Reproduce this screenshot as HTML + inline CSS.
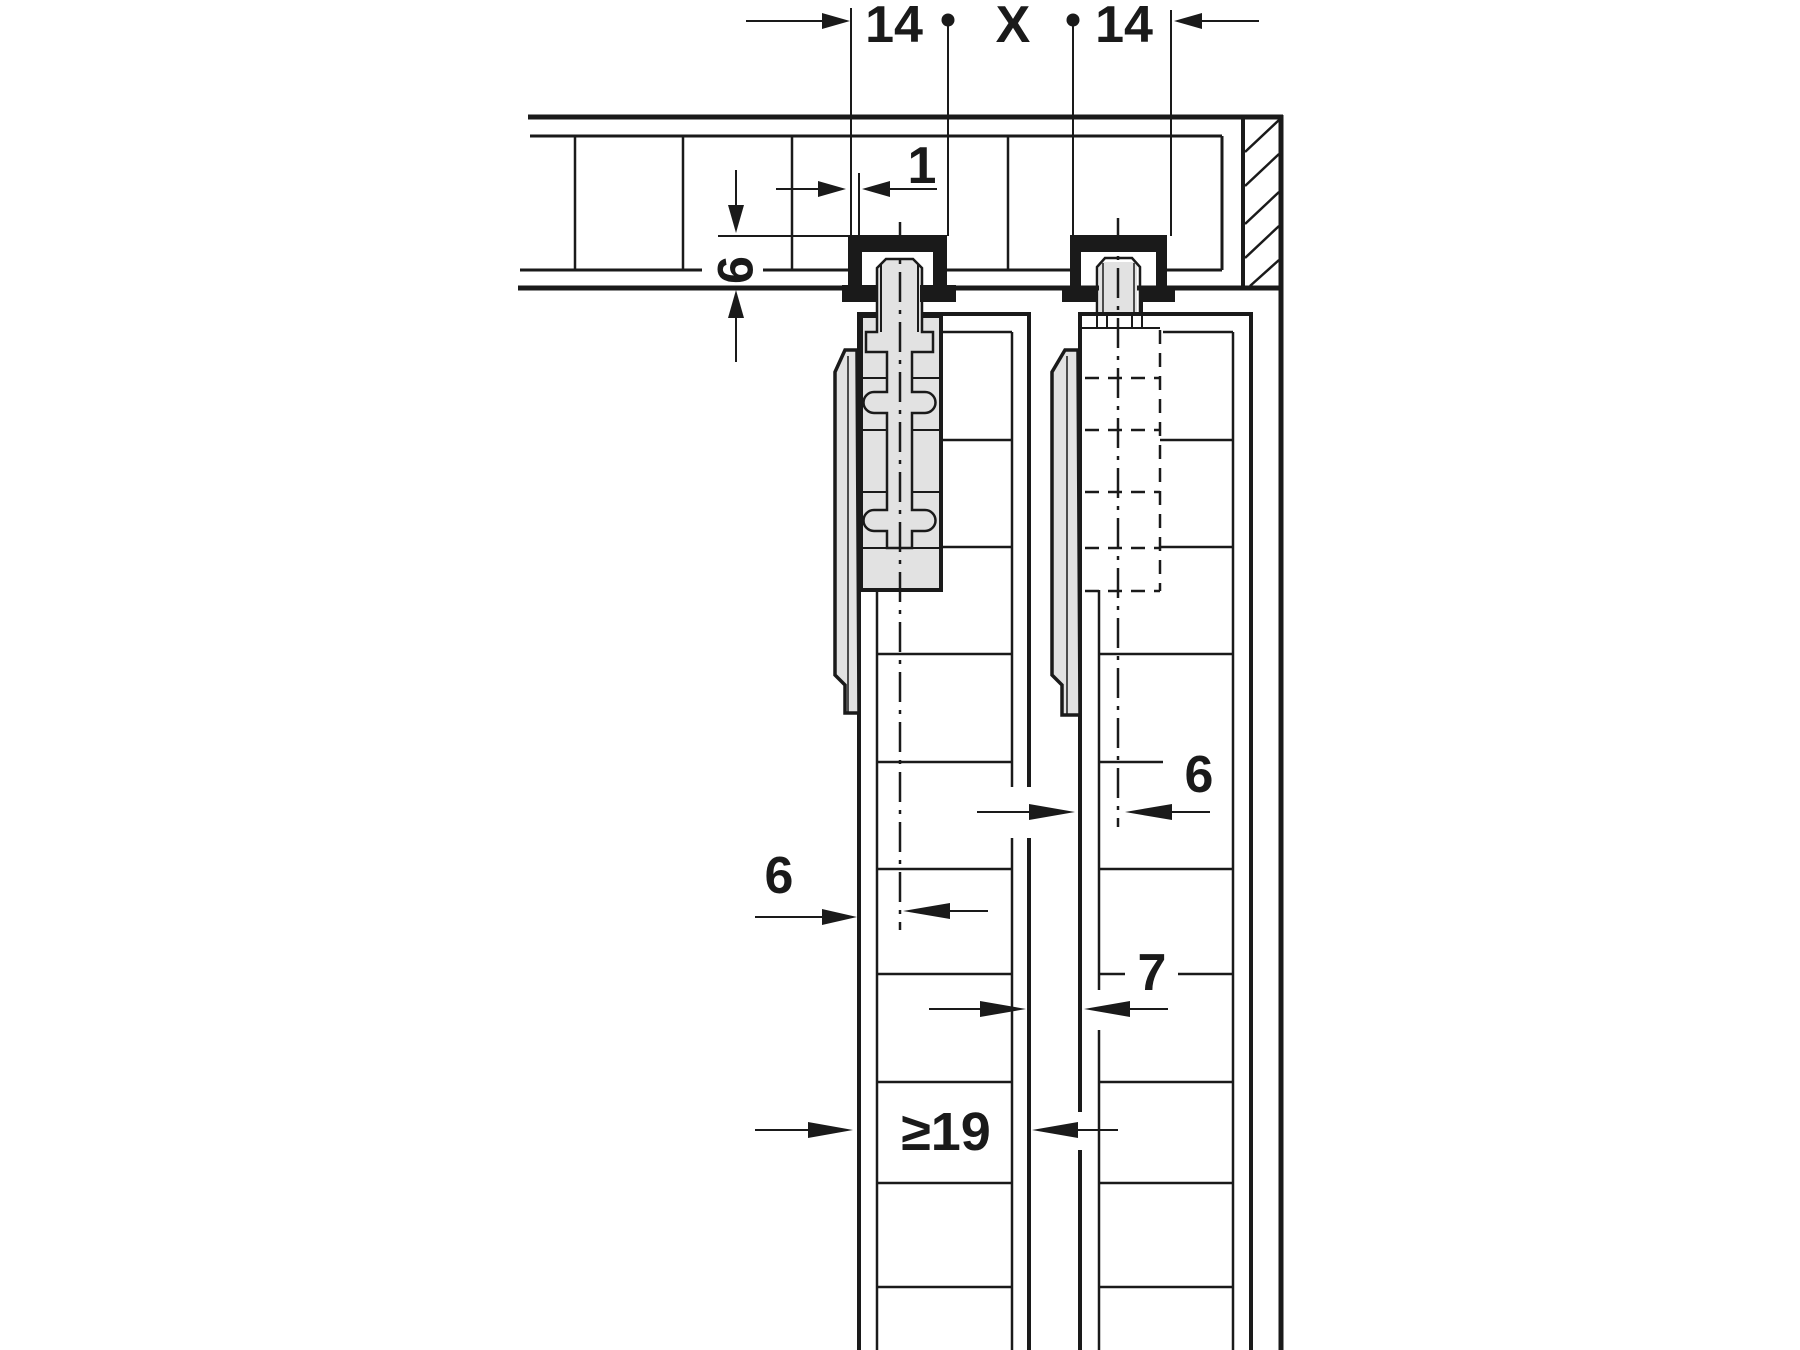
<!DOCTYPE html>
<html><head><meta charset="utf-8"><style>
html,body{margin:0;padding:0;background:#fff;width:1800px;height:1350px;overflow:hidden}
svg{display:block}
text{font-family:"Liberation Sans",Arial,sans-serif;font-weight:bold;fill:#1a1a1a}
</style></head><body>
<svg width="1800" height="1350" viewBox="0 0 1800 1350" xmlns="http://www.w3.org/2000/svg">
<g stroke="#1a1a1a" fill="none" stroke-linecap="butt">
<line x1="528" y1="117" x2="1283" y2="117" stroke-width="5"/>
<line x1="530" y1="136" x2="1222" y2="136" stroke-width="3"/>
<line x1="1222" y1="136" x2="1222" y2="270" stroke-width="3"/>
<line x1="575" y1="136" x2="575" y2="270" stroke-width="2.5"/>
<line x1="683" y1="136" x2="683" y2="270" stroke-width="2.5"/>
<line x1="792" y1="136" x2="792" y2="270" stroke-width="2.5"/>
<line x1="1008" y1="136" x2="1008" y2="270" stroke-width="2.5"/>
<line x1="520" y1="270" x2="702" y2="270" stroke-width="3"/>
<line x1="763" y1="270" x2="848" y2="270" stroke-width="3"/>
<line x1="947" y1="270" x2="1070" y2="270" stroke-width="3"/>
<line x1="1167" y1="270" x2="1222" y2="270" stroke-width="3"/>
<line x1="518" y1="288" x2="1283" y2="288" stroke-width="5"/>
<line x1="1243" y1="117" x2="1243" y2="288" stroke-width="4"/>
<line x1="1281" y1="115" x2="1281" y2="1350" stroke-width="5"/>
<g stroke-width="2.5">
<line x1="1245" y1="152" x2="1279" y2="120"/>
<line x1="1245" y1="186" x2="1279" y2="154"/>
<line x1="1245" y1="224" x2="1279" y2="192"/>
<line x1="1245" y1="258" x2="1279" y2="226"/>
<line x1="1250" y1="286" x2="1279" y2="260"/>
</g>
<line x1="851" y1="8" x2="851" y2="300" stroke-width="2"/>
<line x1="948" y1="20" x2="948" y2="236" stroke-width="2"/>
<line x1="1073" y1="20" x2="1073" y2="236" stroke-width="2"/>
<line x1="1171" y1="10" x2="1171" y2="236" stroke-width="2"/>
<line x1="746" y1="21" x2="825" y2="21" stroke-width="2"/>
<line x1="1198" y1="21" x2="1259" y2="21" stroke-width="2"/>
<line x1="859" y1="173" x2="859" y2="236" stroke-width="2"/>
<line x1="776" y1="189" x2="822" y2="189" stroke-width="2"/>
<line x1="888" y1="189" x2="937" y2="189" stroke-width="2"/>
<line x1="736" y1="170" x2="736" y2="210" stroke-width="2"/>
<line x1="736" y1="314" x2="736" y2="362" stroke-width="2"/>
<line x1="718" y1="236" x2="848" y2="236" stroke-width="2"/>

<line x1="859" y1="314" x2="859" y2="1350" stroke-width="4"/>
<line x1="857" y1="314" x2="1031" y2="314" stroke-width="4"/>
<line x1="1029" y1="314" x2="1029" y2="787" stroke-width="4"/>
<line x1="1029" y1="838" x2="1029" y2="1350" stroke-width="4"/>
<line x1="1012" y1="332" x2="1012" y2="787" stroke-width="2.5"/>
<line x1="1012" y1="838" x2="1012" y2="1350" stroke-width="2.5"/>
<line x1="942" y1="332" x2="1012" y2="332" stroke-width="2.5"/>
<line x1="877" y1="590" x2="877" y2="1350" stroke-width="2.5"/>
<g stroke-width="2.5">
<line x1="942" y1="440" x2="1012" y2="440"/>
<line x1="942" y1="547" x2="1012" y2="547"/>
<line x1="877" y1="654" x2="1012" y2="654"/>
<line x1="877" y1="762" x2="1012" y2="762"/>
<line x1="877" y1="869" x2="1012" y2="869"/>
<line x1="877" y1="974" x2="1012" y2="974"/>
<line x1="877" y1="1082" x2="1012" y2="1082"/>
<line x1="877" y1="1183" x2="1012" y2="1183"/>
<line x1="877" y1="1287" x2="1012" y2="1287"/>
</g>
<line x1="1080" y1="314" x2="1080" y2="1112" stroke-width="4"/>
<line x1="1080" y1="1150" x2="1080" y2="1350" stroke-width="4"/>
<line x1="1078" y1="314" x2="1253" y2="314" stroke-width="4"/>
<line x1="1251" y1="314" x2="1251" y2="1350" stroke-width="4"/>
<line x1="1233" y1="332" x2="1233" y2="1350" stroke-width="2.5"/>
<line x1="1163" y1="332" x2="1233" y2="332" stroke-width="2.5"/>
<line x1="1099" y1="590" x2="1099" y2="990" stroke-width="2.5"/>
<line x1="1099" y1="1030" x2="1099" y2="1350" stroke-width="2.5"/>
<g stroke-width="2.5">
<line x1="1160" y1="440" x2="1233" y2="440"/>
<line x1="1160" y1="547" x2="1233" y2="547"/>
<line x1="1099" y1="654" x2="1233" y2="654"/>
<line x1="1099" y1="762" x2="1163" y2="762"/>
<line x1="1099" y1="869" x2="1233" y2="869"/>
<line x1="1099" y1="974" x2="1125" y2="974"/>
<line x1="1178" y1="974" x2="1233" y2="974"/>
<line x1="1099" y1="1082" x2="1233" y2="1082"/>
<line x1="1099" y1="1183" x2="1233" y2="1183"/>
<line x1="1099" y1="1287" x2="1233" y2="1287"/>
</g>
</g>

<path d="M857,350 L845,350 L835,372 L835,675 L845,685 L845,713 L859,713 Z" fill="#e2e2e2" stroke="#1a1a1a" stroke-width="3.5"/>
<line x1="848" y1="356" x2="848" y2="712" stroke="#1a1a1a" stroke-width="1.5"/>
<path d="M1078,350 L1065,350 L1052,372 L1052,675 L1062,685 L1062,715 L1080,715 Z" fill="#e2e2e2" stroke="#1a1a1a" stroke-width="3.5"/>
<line x1="1067" y1="356" x2="1067" y2="714" stroke="#1a1a1a" stroke-width="1.5"/>

<rect x="861" y="316" width="80" height="274" fill="#e2e2e2" stroke="#1a1a1a" stroke-width="4"/>
<path d="M877,332 L877,268 L886,259 L913,259 L922,268 L922,332 L933,332 L933,352 L912,352 L912,392 L925,392 A10.5,10.5 0 0 1 925,413 L912,413 L912,510 L925,510 A10.5,10.5 0 0 1 925,531 L912,531 L912,548 L887,548 L887,531 L874,531 A10.5,10.5 0 0 1 874,510 L887,510 L887,413 L874,413 A10.5,10.5 0 0 1 874,392 L887,392 L887,352 L866,352 L866,332 Z" fill="#e2e2e2" stroke="#1a1a1a" stroke-width="2.5"/>
<g stroke="#1a1a1a" stroke-width="2">
<line x1="863" y1="378" x2="887" y2="378"/><line x1="912" y1="378" x2="939" y2="378"/>
<line x1="863" y1="430" x2="887" y2="430"/><line x1="912" y1="430" x2="939" y2="430"/>
<line x1="863" y1="492" x2="887" y2="492"/><line x1="912" y1="492" x2="939" y2="492"/>
<line x1="863" y1="548" x2="887" y2="548"/><line x1="912" y1="548" x2="939" y2="548"/>
<line x1="881" y1="264" x2="881" y2="332"/><line x1="918" y1="264" x2="918" y2="332"/>
</g>
<g stroke="#1a1a1a" stroke-width="2.5" stroke-dasharray="14,9" fill="none">
<line x1="1160" y1="330" x2="1160" y2="591"/>
<line x1="1085" y1="378" x2="1160" y2="378"/>
<line x1="1085" y1="430" x2="1160" y2="430"/>
<line x1="1085" y1="492" x2="1160" y2="492"/>
<line x1="1085" y1="548" x2="1160" y2="548"/>
<line x1="1085" y1="591" x2="1160" y2="591"/>
</g>
<g stroke="#1a1a1a" stroke-width="2">
<line x1="1097" y1="300" x2="1097" y2="328"/><line x1="1107" y1="300" x2="1107" y2="328"/>
<line x1="1132" y1="300" x2="1132" y2="328"/><line x1="1142" y1="300" x2="1142" y2="328"/>
<line x1="1080" y1="328" x2="1160" y2="328"/>
</g>
<rect x="1099" y="262" width="38" height="50" fill="#e2e2e2"/>
<path d="M1097,312 L1097,267 L1105,258 L1132,258 L1140,267 L1140,312" fill="none" stroke="#1a1a1a" stroke-width="2.5"/>
<line x1="1103" y1="263" x2="1103" y2="312" stroke="#1a1a1a" stroke-width="1.5"/>
<line x1="1134" y1="263" x2="1134" y2="312" stroke="#1a1a1a" stroke-width="1.5"/>

<path d="M848,235 L947,235 L947,285 L956,285 L956,302 L920,302 L920,285 L933,285 L933,252 L862,252 L862,285 L877,285 L877,302 L842,302 L842,285 L848,285 Z" fill="#1a1a1a"/>
<path d="M1070,235 L1167,235 L1167,288 L1175,288 L1175,302 L1140,302 L1140,288 L1156,288 L1156,252 L1081,252 L1081,288 L1097,288 L1097,302 L1062,302 L1062,288 L1070,288 Z" fill="#1a1a1a"/>

<g stroke="#1a1a1a" stroke-width="2.5" stroke-dasharray="30,8,4,8">
<line x1="900" y1="222" x2="900" y2="930"/>
<line x1="1118" y1="218" x2="1118" y2="827"/>
</g>

<g stroke="#1a1a1a" stroke-width="2">
<line x1="977" y1="812" x2="1060" y2="812"/>
<line x1="1140" y1="812" x2="1210" y2="812"/>
<line x1="755" y1="917" x2="840" y2="917"/>
<line x1="920" y1="911" x2="988" y2="911"/>
<line x1="929" y1="1009" x2="1010" y2="1009"/>
<line x1="1100" y1="1009" x2="1168" y2="1009"/>
<line x1="755" y1="1130" x2="840" y2="1130"/>
<line x1="1048" y1="1130" x2="1118" y2="1130"/>
</g>
<g fill="#1a1a1a">
<polygon points="850,21 822,13 822,29"/>
<polygon points="1174,21 1202,13 1202,29"/>
<polygon points="846,189 818,181 818,197"/>
<polygon points="862,189 890,181 890,197"/>
<polygon points="736,233 728,205 744,205"/>
<polygon points="736,290 728,318 744,318"/>
<polygon points="1075,812 1029,804 1029,820"/>
<polygon points="1125,812 1172,804 1172,820"/>
<polygon points="857,917 822,909 822,925"/>
<polygon points="903,911 950,903 950,919"/>
<polygon points="1026,1009 980,1001 980,1017"/>
<polygon points="1084,1009 1130,1001 1130,1017"/>
<polygon points="853,1130 808,1122 808,1138"/>
<polygon points="1032,1130 1078,1122 1078,1138"/>
<circle cx="948" cy="20" r="6.5"/>
<circle cx="1073" cy="20" r="6.5"/>
</g>

<text x="894" y="42" font-size="52" text-anchor="middle">14</text>
<text x="1013" y="42" font-size="52" text-anchor="middle">X</text>
<text x="1124" y="42" font-size="52" text-anchor="middle">14</text>
<text x="922" y="183" font-size="52" text-anchor="middle">1</text>
<text x="0" y="0" font-size="50" text-anchor="middle" transform="translate(718,270) rotate(90)">9</text>
<text x="1199" y="792" font-size="52" text-anchor="middle">6</text>
<text x="779" y="893" font-size="52" text-anchor="middle">6</text>
<text x="1152" y="990" font-size="52" text-anchor="middle">7</text>
<text x="946" y="1150" font-size="54" text-anchor="middle">≥19</text>
</svg>
</body></html>
